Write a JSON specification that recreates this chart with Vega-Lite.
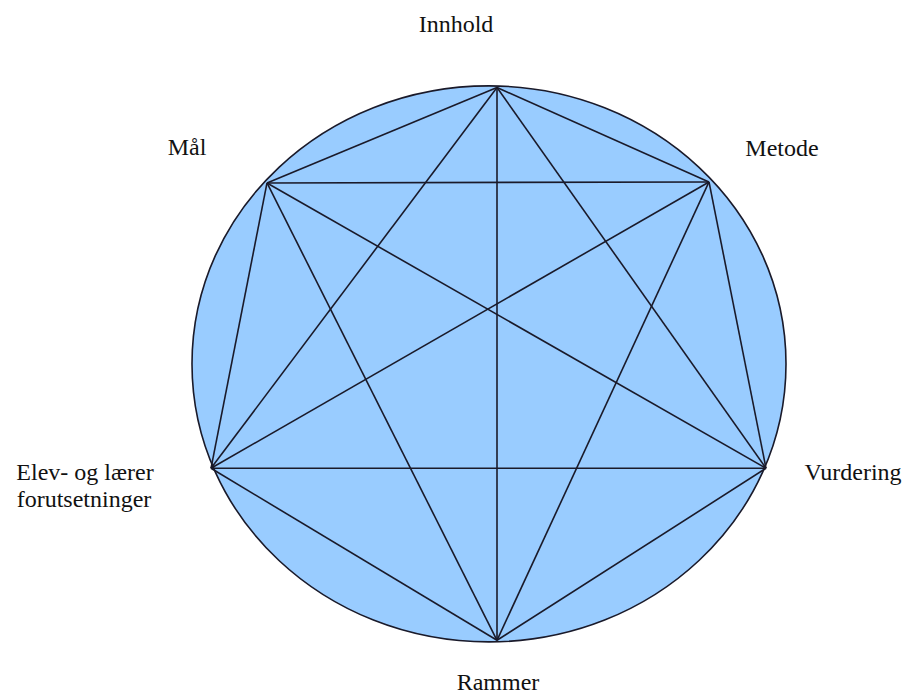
{
  "$schema": "https://vega.github.io/schema/vega-lite/v6.json",
  "autosize": {"type": "fit", "contains": "padding"},
  "width": 907,
  "height": 695,
  "padding": 0,
  "background": "white",
  "config": {"view": {"stroke": null}},
  "datasets": {
    "ellipse": [{"cx": 489, "cy": 366}],
    "edges": [
      {"x1": 497, "y1": 88, "x2": 709, "y2": 183},
      {"x1": 497, "y1": 88, "x2": 766, "y2": 471},
      {"x1": 497, "y1": 88, "x2": 497, "y2": 644},
      {"x1": 497, "y1": 88, "x2": 211, "y2": 471},
      {"x1": 497, "y1": 88, "x2": 267, "y2": 184},
      {"x1": 709, "y1": 183, "x2": 766, "y2": 471},
      {"x1": 709, "y1": 183, "x2": 497, "y2": 644},
      {"x1": 709, "y1": 183, "x2": 211, "y2": 471},
      {"x1": 709, "y1": 183, "x2": 267, "y2": 184},
      {"x1": 766, "y1": 471, "x2": 497, "y2": 644},
      {"x1": 766, "y1": 471, "x2": 211, "y2": 471},
      {"x1": 766, "y1": 471, "x2": 267, "y2": 184},
      {"x1": 497, "y1": 644, "x2": 211, "y2": 471},
      {"x1": 497, "y1": 644, "x2": 267, "y2": 184},
      {"x1": 211, "y1": 471, "x2": 267, "y2": 184}
    ],
    "labels": [
      {"label": "Innhold", "lx": 456, "ly": 32},
      {"label": "Mål", "lx": 187, "ly": 156},
      {"label": "Metode", "lx": 782, "ly": 157},
      {"label": "Elev- og lærer", "lx": 85, "ly": 483},
      {"label": "forutsetninger", "lx": 84, "ly": 510},
      {"label": "Vurdering", "lx": 853, "ly": 483},
      {"label": "Rammer", "lx": 498, "ly": 694}
    ]
  },
  "layer": [
    {
      "data": {"name": "ellipse"},
      "mark": {
        "type": "point",
        "shape": "M-1,0A1,0.936 0 1,1 1,0A1,0.936 0 1,1 -1,0Z",
        "size": 352836,
        "filled": true,
        "fill": "#99ccff",
        "fillOpacity": 1,
        "stroke": "#1a1a2a",
        "strokeWidth": 1.6,
        "opacity": 1
      },
      "encoding": {
        "x": {"field": "cx", "type": "quantitative", "scale": {"domain": [0, 907], "nice": false, "zero": false}, "axis": null},
        "y": {"field": "cy", "type": "quantitative", "scale": {"domain": [0, 695], "nice": false, "zero": false, "reverse": true}, "axis": null}
      }
    },
    {
      "data": {"name": "edges"},
      "mark": {"type": "rule", "stroke": "#1a1a2a", "strokeWidth": 1.6},
      "encoding": {
        "x": {"field": "x1", "type": "quantitative", "scale": {"domain": [0, 907], "nice": false, "zero": false}, "axis": null},
        "y": {"field": "y1", "type": "quantitative", "scale": {"domain": [0, 695], "nice": false, "zero": false, "reverse": true}, "axis": null},
        "x2": {"field": "x2"},
        "y2": {"field": "y2"}
      }
    },
    {
      "data": {"name": "labels"},
      "mark": {"type": "text", "font": "Liberation Serif", "fontSize": 24, "align": "center", "baseline": "alphabetic", "color": "#111111"},
      "encoding": {
        "x": {"field": "lx", "type": "quantitative", "scale": {"domain": [0, 907], "nice": false, "zero": false}, "axis": null},
        "y": {"field": "ly", "type": "quantitative", "scale": {"domain": [0, 695], "nice": false, "zero": false, "reverse": true}, "axis": null},
        "text": {"field": "label", "type": "nominal"}
      }
    }
  ],
  "resolve": {"scale": {"x": "shared", "y": "shared"}}
}
